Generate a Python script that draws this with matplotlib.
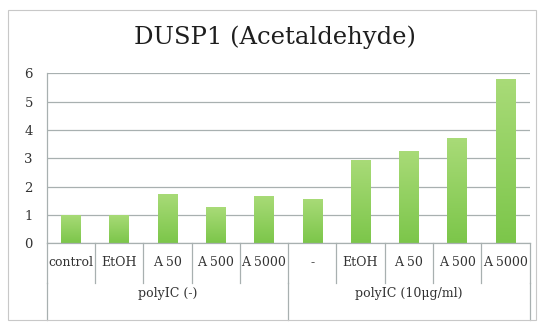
import numpy as np
import matplotlib
matplotlib.use("Agg")
import matplotlib.pyplot as plt
from matplotlib.patches import Rectangle
from matplotlib.colors import LinearSegmentedColormap
from matplotlib.transforms import blended_transform_factory

# Data
categories = ["control", "EtOH", "A 50", "A 500", "A 5000",
              "-", "EtOH", "A 50", "A 500", "A 5000"]
values = [1.00, 1.00, 1.73, 1.27, 1.68, 1.56, 2.94, 3.27, 3.71, 5.79]
groups = ["polyIC (-)", "polyIC (10\u03bcg/ml)"]
group_sizes = [5, 5]
yticks = [0, 1, 2, 3, 4, 5, 6]

plt.rcParams["font.family"] = ["DejaVu Serif"]
text_color = "#333333"
line_color = "#a8b0b0"

fig = plt.figure(figsize=(5.42, 3.27), dpi=100)
fig.patch.set_facecolor("white")

# Outer chart frame
fig.patches.append(Rectangle((8 / 542, 1 - 320 / 327), 528 / 542, 310 / 327,
                             transform=fig.transFigure, fill=False,
                             edgecolor="#c8c8c8", linewidth=0.8))

ax = fig.add_axes([46.7 / 542, 1 - 243.3 / 327, (529.5 - 46.7) / 542, (243.3 - 73.3) / 327])
n = len(categories)
x = np.arange(n)

# Gridlines
ax.set_yticks(yticks)
ax.yaxis.grid(True, color=line_color, linewidth=0.9)
ax.set_axisbelow(True)
for s in ["top", "right", "bottom"]:
    ax.spines[s].set_visible(False)
ax.spines["left"].set_color(line_color)
ax.spines["left"].set_linewidth(0.9)
ax.tick_params(axis="y", length=0, pad=10, labelsize=9.5, labelcolor=text_color)
ax.tick_params(axis="x", length=0, labelbottom=False)

# Gradient bars
cmap = LinearSegmentedColormap.from_list("barg", ["#7cc64a", "#a9db78"])
grad = np.linspace(0, 1, 256).reshape(-1, 1)
bw = 0.4
bars = ax.bar(x, values, width=bw, color="none", edgecolor="none")
for b in bars:
    x0, y0 = b.get_x(), b.get_y()
    w, h = b.get_width(), b.get_height()
    im = ax.imshow(grad, cmap=cmap, origin="lower", aspect="auto",
                   extent=(x0, x0 + w, y0, y0 + h), zorder=2)
    im.set_clip_path(b)
ax.set_xlim(-0.5, n - 0.5)
ax.set_ylim(0, 6)

# Category axis with multi-level labels
tr = blended_transform_factory(ax.transData, fig.transFigure)
def fy(py):
    return 1 - py / 327

ax.plot([-0.5, n - 0.5], [0, 0], color=line_color, lw=0.9, clip_on=False, zorder=3)
for i in range(n + 1):
    xb = i - 0.5
    ax.plot([xb, xb], [fy(243.3), fy(283)], color=line_color, lw=0.9,
            transform=tr, clip_on=False)
for i, lab in enumerate(categories):
    ax.text(i, fy(263), lab, transform=tr, ha="center", va="center",
            fontsize=9, color=text_color)

start = 0
bounds = [-0.5]
for g, sz in zip(groups, group_sizes):
    ax.text(start + (sz - 1) / 2, fy(293), g, transform=tr, ha="center",
            va="center", fontsize=9, color=text_color)
    start += sz
    bounds.append(start - 0.5)
for xb in bounds:
    ax.plot([xb, xb], [fy(283), fy(320)], color=line_color, lw=0.9,
            transform=tr, clip_on=False)

fig.text(275 / 542, fy(37), "DUSP1 (Acetaldehyde)", ha="center", va="center",
         fontsize=17.5, color="#1e1e1e")

fig.savefig("out.png", dpi=100)
